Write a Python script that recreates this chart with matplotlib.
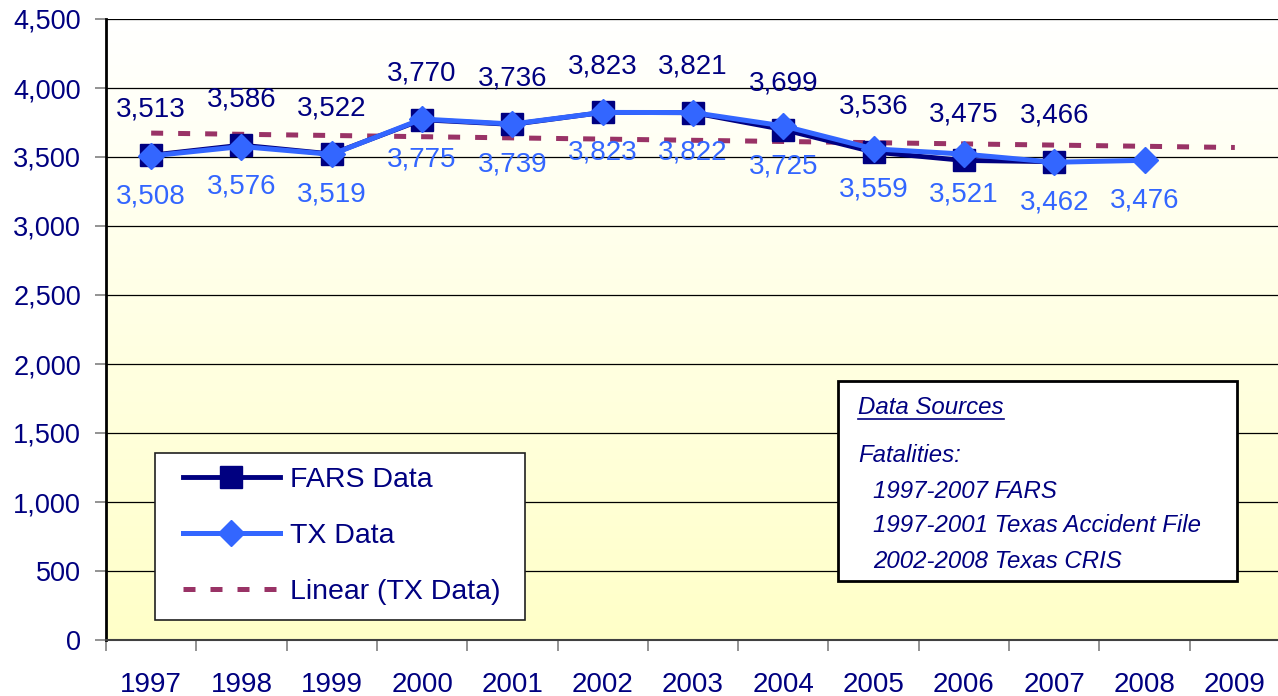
import numpy as np
import matplotlib
matplotlib.use("Agg")
import matplotlib.pyplot as plt
from matplotlib.colors import LinearSegmentedColormap
from matplotlib.patches import Rectangle
from matplotlib.ticker import FixedLocator

plt.rcParams['font.family'] = ['Liberation Sans', 'DejaVu Sans']

years = ["1997", "1998", "1999", "2000", "2001", "2002", "2003",
         "2004", "2005", "2006", "2007", "2008", "2009"]
fars = [3513, 3586, 3522, 3770, 3736, 3823, 3821, 3699, 3536, 3475, 3466]
tx = [3508, 3576, 3519, 3775, 3739, 3823, 3822, 3725, 3559, 3521, 3462, 3476]
yticks = [0, 500, 1000, 1500, 2000, 2500, 3000, 3500, 4000, 4500]

NAVY = "#000080"; BLUE = "#3366FF"; TREND = "#993366"
W, H = 1278, 696
fig = plt.figure(figsize=(W/100, H/100), dpi=100)
AX_L, AX_R, AX_T, AX_B = 106, 1280, 19, 640
ax = fig.add_axes([AX_L/W, 1-AX_B/H, (AX_R-AX_L)/W, (AX_B-AX_T)/H])

def axp(x, y):  # pixel -> axes fraction
    return (x-AX_L)/(AX_R-AX_L), (AX_B-y)/(AX_B-AX_T)

# gradient background
cm = LinearSegmentedColormap.from_list("bg", ["#FFFFFF", "#FFFFC8"])
ax.imshow(np.linspace(0, 1, 256)[:, None], cmap=cm, extent=[0, 1, 0, 1], transform=ax.transAxes,
          aspect="auto", zorder=0, origin="upper")

xf = np.arange(len(fars)); xt = np.arange(len(tx))
# linear trend of TX, forecast one period forward
coef = np.polyfit(xt, tx, 1)
xtr = np.arange(len(years))
ltr, = ax.plot(xtr, np.polyval(coef, xtr), color=TREND, lw=3.6, dashes=(2.4, 3.0),
               dash_capstyle="butt", zorder=4, label="Linear (TX Data)")
lf, = ax.plot(xf, fars, color=NAVY, lw=3.5, marker="s", ms=15.5, mfc=NAVY, mec=NAVY, zorder=5,
              label="FARS Data")
lt, = ax.plot(xt, tx, color=BLUE, lw=3.6, marker="D", ms=13, mfc=BLUE, mec=BLUE, zorder=6,
              label="TX Data")

for x, v in zip(xf, fars):
    ax.annotate(f"{v:,}", (x, v), xytext=(0, 33), textcoords="offset points", ha="center",
                va="center", fontsize=20, color=NAVY, zorder=7)
for x, v in zip(xt, tx):
    ax.annotate(f"{v:,}", (x, v), xytext=(0, -29), textcoords="offset points", ha="center",
                va="center", fontsize=20, color=BLUE, zorder=7)

ax.set_xlim(-0.5, len(years)-0.5)
ax.set_ylim(0, 4500)
ax.set_yticks(yticks)
ax.set_yticklabels([f"{v:,}" for v in yticks])
ax.set_xticks(np.arange(len(years)))
ax.set_xticklabels(years)
ax.xaxis.set_minor_locator(FixedLocator(np.arange(len(years)+1)-0.5))
ax.tick_params(axis="x", which="major", length=0, pad=23, labelsize=20, labelcolor=NAVY)
ax.tick_params(axis="x", which="minor", length=8, width=1.2, color="#808080")
ax.tick_params(axis="y", length=8, width=1.2, color="#808080", pad=10, labelsize=19.5, labelcolor=NAVY)
ax.grid(axis="y", color="black", lw=0.9, zorder=1)
ax.set_axisbelow(True)
for s in ("top", "right"):
    ax.spines[s].set_visible(False)
ax.spines["left"].set_linewidth(2)
ax.spines["left"].set_color("black")
ax.spines["bottom"].set_linewidth(1.5)
ax.spines["bottom"].set_color("#404040")

# legend: frame drawn separately to get the wide inner margin
lx0, ly0 = axp(155, 620); lx1, ly1 = axp(525, 453)
ax.add_patch(Rectangle((lx0, ly0), lx1-lx0, ly1-ly0, transform=ax.transAxes, facecolor="white",
                       edgecolor="#202020", lw=1.2, zorder=8))
leg = ax.legend(handles=[lf, lt, ltr], loc="upper left", bbox_to_anchor=axp(183, 467),
                borderaxespad=0, borderpad=0, fontsize=20.5, handlelength=3.4, handletextpad=0.35,
                labelspacing=1.05, frameon=False)
leg.set_zorder(9)
for t in leg.get_texts():
    t.set_color(NAVY)

# data sources box
x0, y0 = axp(838, 581); x1, y1 = axp(1237, 381)
ax.add_patch(Rectangle((x0, y0), x1-x0, y1-y0, transform=ax.transAxes, facecolor="white",
                       edgecolor="black", lw=2, zorder=8))
src = [("Data Sources", 858, 407), ("Fatalities:", 858, 455), ("1997-2007 FARS", 873, 491),
       ("1997-2001 Texas Accident File", 873, 525), ("2002-2008 Texas CRIS", 873, 561)]
for txt, px, py in src:
    ax.text(*axp(px, py), txt, transform=ax.transAxes, fontsize=17.3, style="italic", color=NAVY,
            ha="left", va="center", zorder=9)
ux0, uy = axp(858, 419); ux1, _ = axp(1004, 419)
ax.plot([ux0, ux1], [uy, uy], transform=ax.transAxes, color=NAVY, lw=1.2, zorder=9)

fig.savefig("out.png", dpi=100)
